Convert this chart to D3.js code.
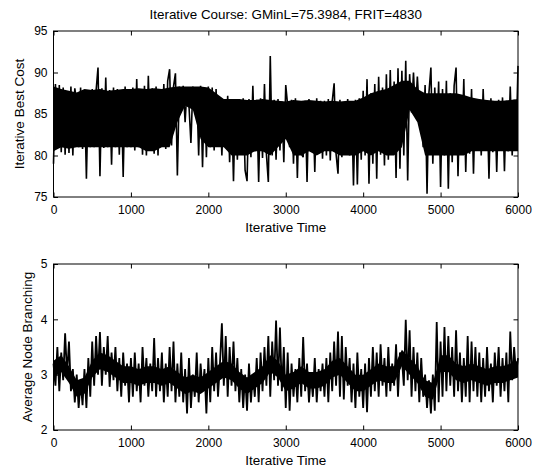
<!DOCTYPE html>
<html>
<head>
<meta charset="utf-8">
<script src="https://cdn.jsdelivr.net/npm/d3@7"></script>
<style>
  body { margin: 0; background: #fff; }
  svg text { font-family: "Liberation Sans", Arial, sans-serif; fill: #000; }
</style>
</head>
<body>
<div id="chart"></div>
<script>
// line samples every 25 iterations
var step = 25;

var bestCost = [
  79.0, 88.6, 81.0, 88.5, 80.4, 88.2, 80.1, 87.6, 80.3, 88.3, 80.0, 88.1, 86.5, 81.0, 88.2, 80.8, 87.9, 77.2, 87.6, 81.0,
  88.0, 81.0, 87.8, 90.6, 77.5, 88.1, 80.9, 89.4, 81.0, 87.9, 78.9, 88.2, 81.0, 88.0, 80.1, 87.7, 77.4, 88.3, 81.0, 88.0,
  81.0, 88.2, 80.6, 89.2, 81.0, 88.0, 80.1, 88.4, 80.0, 89.6, 81.0, 88.1, 80.2, 88.3, 80.0, 88.0, 81.2, 88.6, 80.8, 89.0,
  90.4, 81.2, 88.3, 89.9, 77.6, 88.3, 85.6, 88.4, 84.0, 88.2, 86.0, 81.5, 88.3, 85.8, 88.2, 80.0, 88.4, 78.6, 88.2, 79.8,
  88.3, 81.0, 88.2, 80.6, 88.0, 82.0, 86.8, 80.0, 86.7, 81.0, 87.2, 79.2, 86.6, 76.9, 86.8, 79.5, 86.5, 80.4, 86.9, 78.2,
  76.9, 86.8, 79.8, 88.4, 80.5, 86.7, 76.8, 86.9, 79.7, 88.6, 80.2, 76.8, 92.0, 80.0, 86.7, 79.5, 86.8, 80.6, 86.5, 79.2,
  88.5, 86.0, 81.0, 86.7, 79.0, 86.9, 77.3, 86.5, 80.2, 79.8, 86.6, 76.8, 86.8, 80.5, 86.4, 78.0, 86.9, 80.3, 86.6, 79.6,
  86.6, 80.0, 86.8, 79.4, 86.5, 88.7, 80.2, 77.8, 86.7, 79.8, 86.4, 80.5, 86.8, 80.0, 86.5, 76.4, 86.7, 76.5, 86.9, 79.5,
  87.8, 80.0, 89.2, 76.6, 87.5, 79.0, 88.6, 77.2, 89.5, 80.1, 88.2, 78.8, 89.8, 79.5, 90.3, 80.4, 88.9, 77.3, 90.5, 78.4,
  90.2, 80.0, 91.4, 77.0, 89.8, 85.2, 90.0, 85.0, 89.5, 85.3, 86.8, 81.0, 88.5, 75.4, 87.6, 90.6, 79.0, 88.2, 81.0, 88.9,
  76.2, 88.0, 80.0, 89.0, 76.0, 87.5, 79.2, 88.4, 90.6, 77.5, 87.2, 80.5, 89.2, 78.0, 86.9, 80.2, 88.0, 77.8, 86.8, 80.6,
  86.8, 80.0, 88.0, 81.0, 86.6, 77.2, 86.9, 80.4, 86.5, 78.0, 86.7, 80.8, 87.0, 78.1, 86.6, 80.5, 88.3, 80.0, 86.7, 81.0,
  90.8
];

// where the line is so dense it prints solid: top and bottom of that band, every 100 iterations
var bandStep = 100;
var costBandTop = [
  88.3, 88.0, 87.8, 87.6, 88.0, 87.9, 88.0, 87.8, 87.9, 88.0,
  88.0, 88.1, 88.0, 88.1, 88.0, 88.2, 88.3, 88.3, 88.3, 88.3,
  88.2, 87.5, 86.8, 86.8, 86.8, 86.7, 86.7, 86.8, 86.7, 86.6,
  86.5, 86.7, 86.6, 86.7, 86.6, 86.5, 86.6, 86.5, 86.6, 86.6,
  87.0, 87.5, 87.8, 88.0, 88.5, 89.0, 89.0, 88.0, 87.5, 87.5,
  87.5, 87.5, 87.5, 87.3, 87.0, 86.8, 86.7, 86.6, 86.6, 86.7,
  86.8
];
var costBandBottom = [
  80.5, 81.0, 80.8, 81.0, 81.0, 81.0, 81.0, 81.0, 81.0, 81.0,
  81.0, 81.0, 80.5, 80.5, 81.0, 81.0, 84.0, 86.0, 85.5, 82.0,
  81.0, 81.0, 81.0, 80.0, 80.0, 80.0, 80.5, 80.5, 80.0, 81.0,
  82.0, 80.0, 80.0, 80.5, 80.0, 80.5, 80.5, 80.0, 80.0, 80.0,
  80.5, 80.0, 80.5, 80.0, 80.0, 81.0, 85.5, 84.0, 80.0, 80.0,
  80.0, 80.0, 80.0, 80.0, 80.5, 80.5, 80.5, 80.5, 80.5, 80.5,
  80.5
];

var branching = [
  3.2, 2.8, 3.5, 2.7, 3.4, 2.9, 3.75, 3.0, 3.6, 2.7, 3.1, 2.5, 3.0, 2.4, 2.9, 2.45, 3.1, 2.4, 3.3, 2.6,
  3.6, 2.8, 3.7, 3.0, 3.77, 2.8, 3.5, 3.0, 3.7, 2.78, 3.4, 2.9, 3.5, 2.7, 3.3, 2.6, 3.4, 2.8, 3.2, 2.5,
  3.3, 2.6, 3.4, 2.7, 3.2, 2.5, 3.5, 2.8, 3.3, 2.6, 3.2, 2.7, 3.66, 2.6, 3.3, 2.7, 3.4, 2.5, 3.2, 2.6,
  3.5, 2.7, 3.6, 2.5, 3.2, 2.6, 3.4, 2.5, 3.1, 2.3, 3.3, 2.4, 3.0, 2.6, 3.4, 2.5, 3.2, 2.7, 3.1, 2.3,
  3.3, 2.5, 3.5, 2.7, 3.4, 2.6, 3.2, 3.93, 2.8, 3.7, 2.6, 3.5, 2.8, 3.6, 2.7, 3.3, 2.5, 3.1, 2.4, 3.0,
  2.35, 3.2, 2.5, 3.0, 2.6, 3.3, 2.5, 3.4, 2.7, 3.5, 2.8, 3.7, 2.6, 3.6, 2.9, 3.98, 2.8, 3.85, 2.7, 3.5,
  2.4, 3.4, 2.35, 3.2, 2.6, 3.1, 2.5, 3.3, 2.6, 3.68, 2.7, 3.2, 2.5, 3.0, 2.6, 3.3, 2.5, 3.1, 2.7, 3.2,
  2.6, 3.3, 2.5, 3.4, 2.7, 3.6, 2.8, 3.78, 2.6, 3.7, 2.55, 3.5, 2.8, 3.3, 2.5, 3.2, 2.4, 3.4, 2.6, 3.1,
  2.4, 3.2, 2.32, 3.3, 2.6, 3.5, 2.7, 3.4, 2.6, 3.55, 2.8, 3.3, 2.6, 3.5, 2.7, 3.2, 2.8, 3.55, 2.6, 3.4,
  3.3, 2.8, 3.99, 2.9, 3.8, 2.6, 3.5, 2.7, 3.4, 2.5, 3.3, 2.6, 3.0, 2.4, 2.9, 2.3, 3.0, 2.35, 3.95, 2.5,
  3.6, 2.6, 3.86, 2.7, 3.7, 2.8, 3.5, 2.6, 3.8, 2.7, 3.4, 2.5, 3.3, 2.6, 3.7, 2.5, 3.6, 2.7, 3.5, 2.6,
  3.4, 2.5, 3.3, 2.6, 3.5, 2.7, 3.2, 2.5, 3.4, 2.8, 3.5, 2.6, 3.3, 2.7, 3.4, 2.5, 3.78, 2.9, 3.5, 3.0,
  3.3
];

var branchBandTop = [
  3.25, 3.35, 3.15, 2.9, 2.95, 3.25, 3.4, 3.35, 3.25, 3.15,
  3.15, 3.1, 3.15, 3.15, 3.1, 3.15, 3.05, 2.95, 3.0, 2.95,
  3.05, 3.15, 3.25, 3.2, 3.05, 2.95, 3.05, 3.15, 3.35, 3.25,
  3.0, 3.05, 3.15, 3.05, 3.05, 3.1, 3.25, 3.3, 3.15, 3.0,
  3.0, 3.1, 3.2, 3.15, 3.15, 3.45, 3.3, 3.15, 2.9, 2.85,
  3.35, 3.35, 3.2, 3.15, 3.2, 3.15, 3.1, 3.15, 3.15, 3.2,
  3.25
];
var branchBandBottom = [
  2.95, 3.05, 2.85, 2.6, 2.65, 2.95, 3.1, 3.05, 2.95, 2.85,
  2.85, 2.8, 2.85, 2.85, 2.8, 2.85, 2.75, 2.65, 2.7, 2.65,
  2.75, 2.85, 2.95, 2.9, 2.75, 2.65, 2.75, 2.85, 3.05, 2.95,
  2.7, 2.75, 2.85, 2.75, 2.75, 2.8, 2.95, 3.0, 2.85, 2.7,
  2.7, 2.8, 2.9, 2.85, 2.85, 3.15, 3.0, 2.85, 2.6, 2.55,
  3.05, 3.05, 2.9, 2.85, 2.9, 2.85, 2.8, 2.85, 2.85, 2.9,
  2.95
];

var xTicks = [0, 1000, 2000, 3000, 4000, 5000, 6000];
var costTicks = [75, 80, 85, 90, 95];
var branchTicks = [2, 3, 4, 5];

var W = 539, H = 468;
var left = 53.5, right = 518;

var svg = d3.select("#chart").append("svg")
    .attr("width", W)
    .attr("height", H);

var x = d3.scaleLinear().domain([0, 6000]).range([left, right]);

function panel(top, bottom, data, bandTop, bandBottom, yDomain, yTicks, yLabel, yLabelX, lw) {
    var y = d3.scaleLinear().domain(yDomain).range([bottom, top]);
    var g = svg.append("g");

    var band = d3.area()
        .x(function(d, i) { return x(i * bandStep); })
        .y0(function(d, i) { return y(bandBottom[i]); })
        .y1(function(d) { return y(d); });

    g.append("path")
        .datum(bandTop)
        .attr("d", band)
        .attr("fill", "#000");

    var line = d3.line()
        .x(function(d, i) { return x(i * step); })
        .y(function(d) { return y(d); });

    g.append("path")
        .datum(data)
        .attr("d", line)
        .attr("fill", "none")
        .attr("stroke", "#000")
        .attr("stroke-width", lw)
        .attr("stroke-linejoin", "bevel");

    var tl = 4.5;
    // inward ticks on all four sides, like a boxed matlab axes
    g.append("g")
        .attr("transform", "translate(0," + bottom + ")")
        .call(d3.axisBottom(x).tickValues(xTicks).tickSize(-tl).tickPadding(8).tickFormat(d3.format("d")));
    g.append("g")
        .attr("transform", "translate(0," + top + ")")
        .call(d3.axisTop(x).tickValues(xTicks).tickSize(-tl).tickFormat(""));
    g.append("g")
        .attr("transform", "translate(" + left + ",0)")
        .call(d3.axisLeft(y).tickValues(yTicks).tickSize(-tl).tickPadding(6).tickFormat(d3.format("d")));
    g.append("g")
        .attr("transform", "translate(" + right + ",0)")
        .call(d3.axisRight(y).tickValues(yTicks).tickSize(-tl).tickFormat(""));

    g.selectAll(".domain").remove();
    g.selectAll(".tick line").attr("stroke", "#000");
    g.selectAll(".tick text").style("font-size", "12px").attr("fill", "#000");

    g.append("rect")
        .attr("x", left).attr("y", top)
        .attr("width", right - left).attr("height", bottom - top)
        .attr("fill", "none").attr("stroke", "#000").attr("stroke-width", 1);

    g.append("text")
        .attr("x", (left + right) / 2)
        .attr("y", bottom + 35)
        .attr("text-anchor", "middle")
        .style("font-size", "13.5px")
        .text("Iterative Time");

    g.append("text")
        .attr("transform", "translate(" + yLabelX + "," + (top + bottom) / 2 + ") rotate(-90)")
        .attr("text-anchor", "middle")
        .style("font-size", "13.5px")
        .text(yLabel);
}

panel(31, 197, bestCost, costBandTop, costBandBottom, [75, 95], costTicks, "Iterative Best Cost", 24, 1.6);
panel(264, 430, branching, branchBandTop, branchBandBottom, [2, 5], branchTicks, "Average Node Branching", 32, 1.8);

svg.append("text")
    .attr("x", (left + right) / 2)
    .attr("y", 19)
    .attr("text-anchor", "middle")
    .style("font-size", "13.4px")
    .text("Iterative Course: GMinL=75.3984, FRIT=4830");
</script>
</body>
</html>
